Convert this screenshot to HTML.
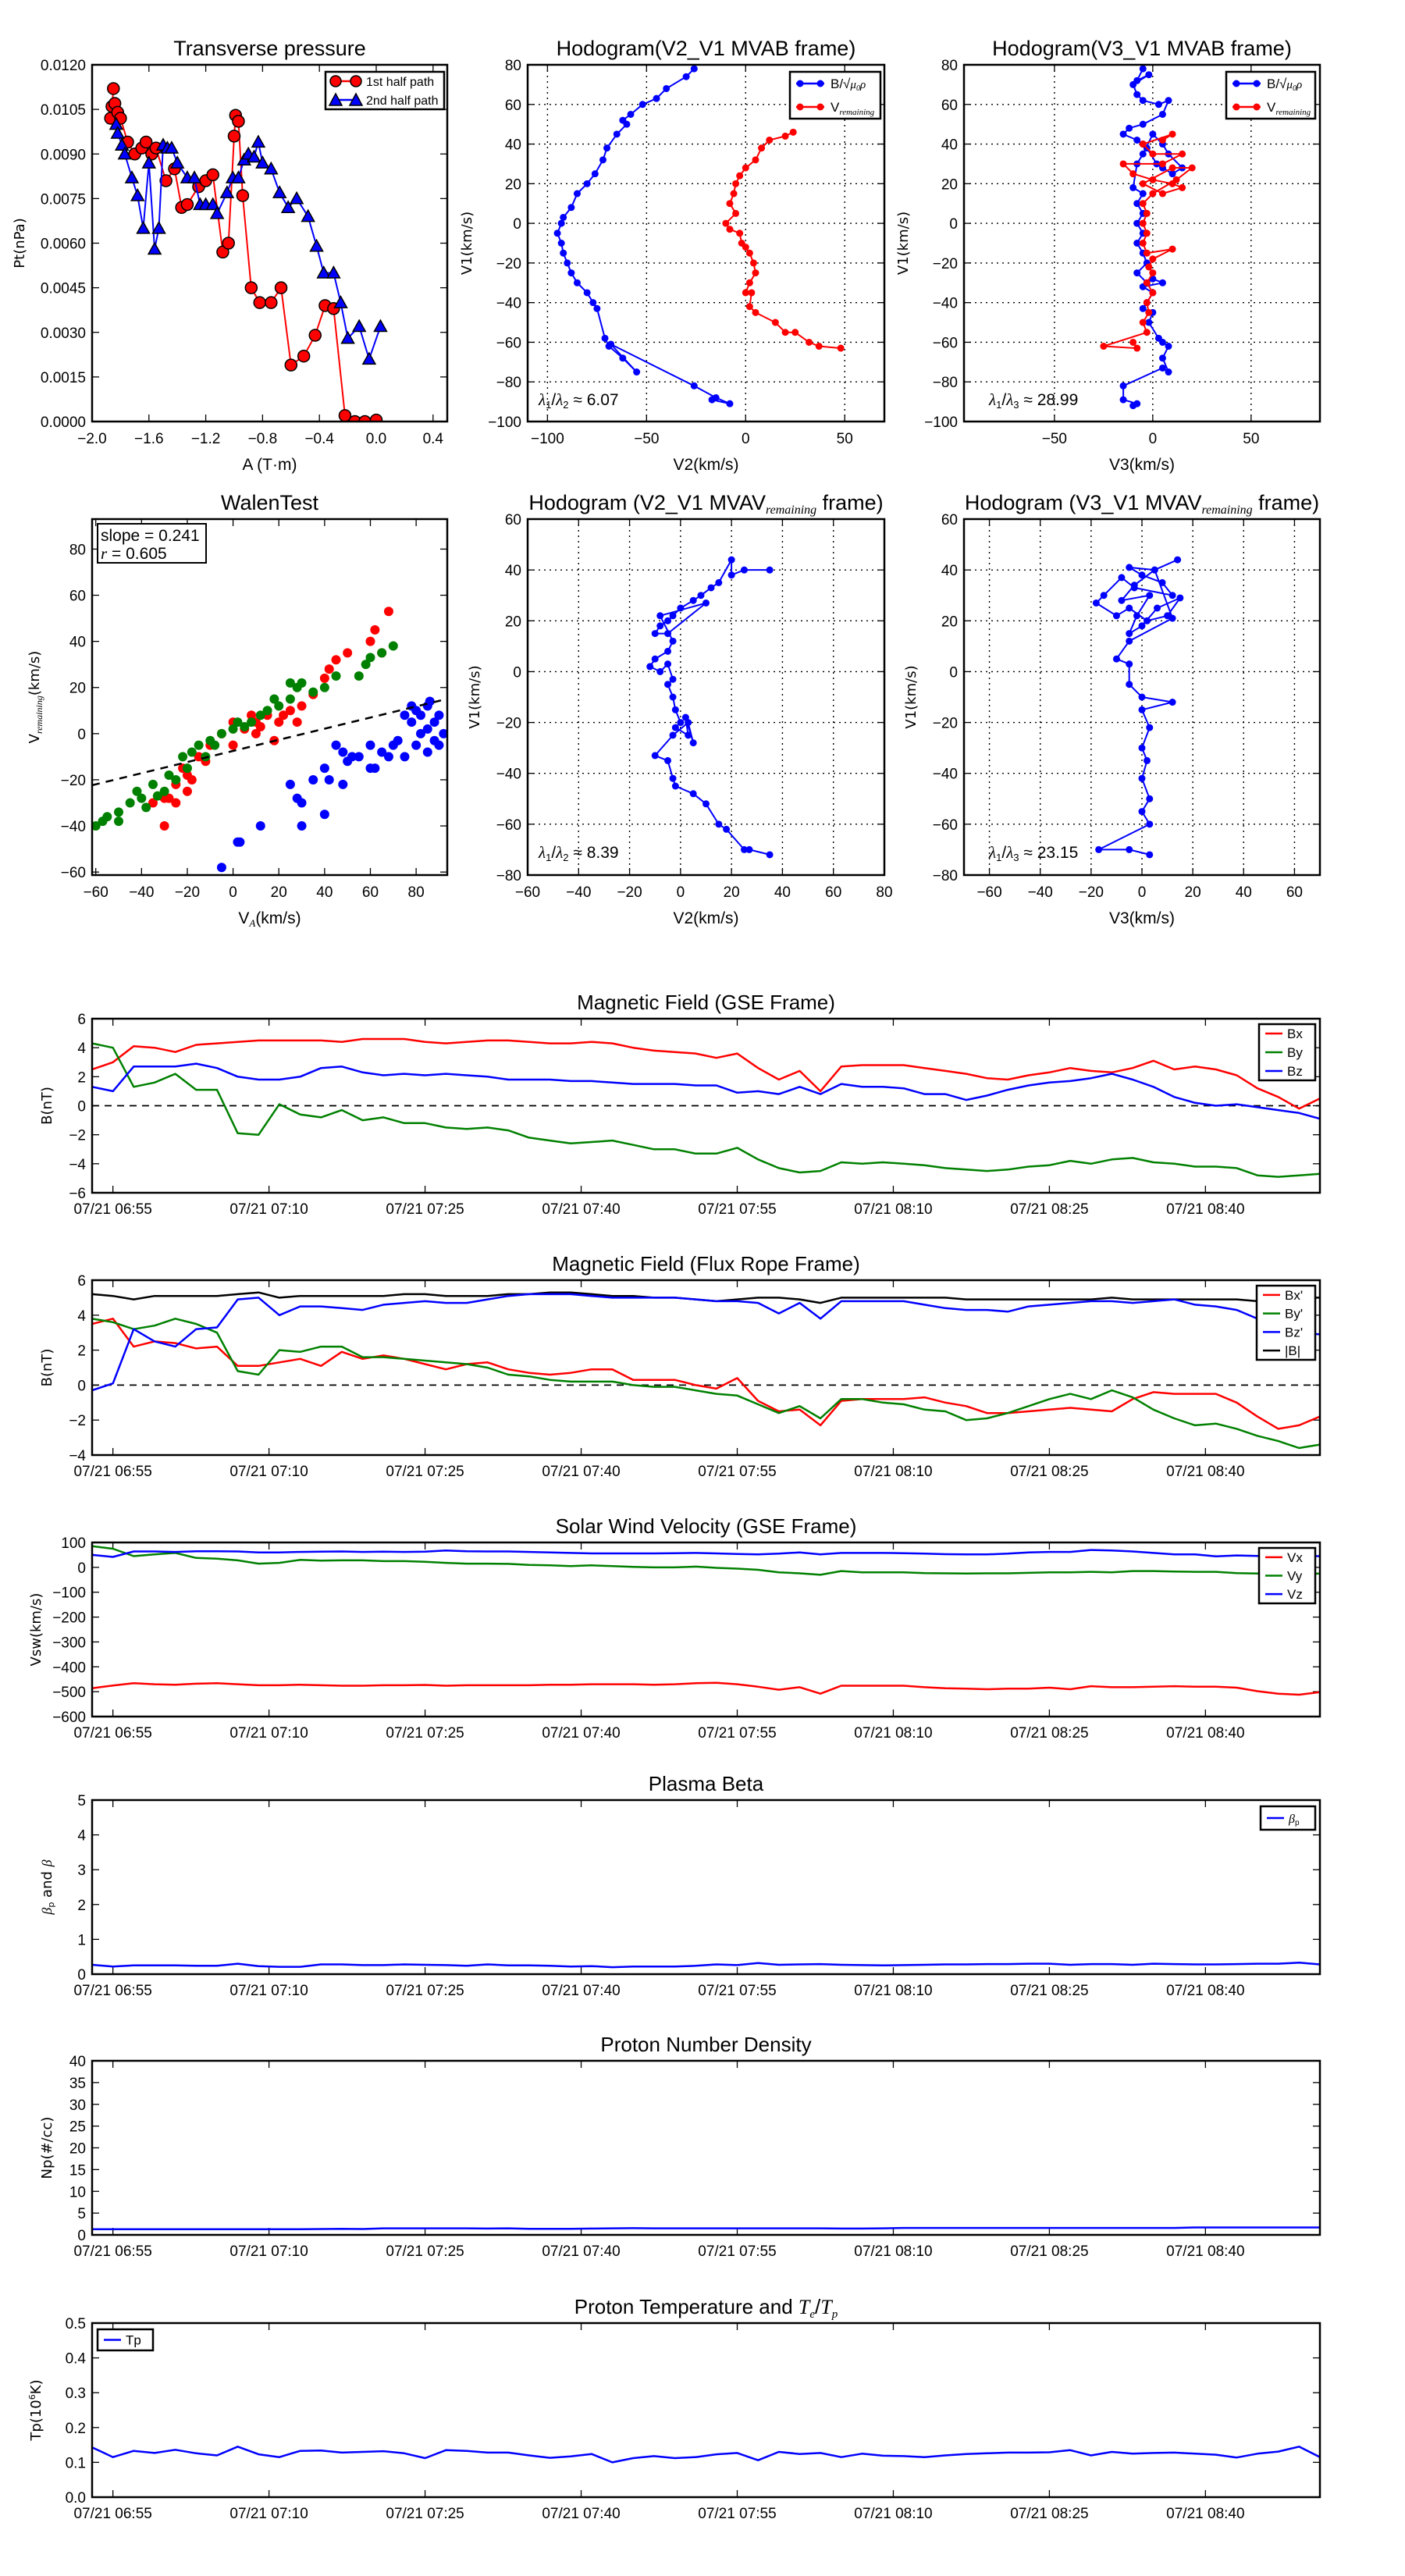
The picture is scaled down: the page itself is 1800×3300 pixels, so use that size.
<!DOCTYPE html>
<html><head><meta charset="utf-8">
<style>
html,body{margin:0;padding:0;background:#fff;}
svg{display:block;}
text{font-family:"Liberation Sans Narrow","Liberation Sans",sans-serif;fill:#000;}
.wide{font-family:"DejaVu Sans","Liberation Sans",sans-serif;}
.math{font-family:"Liberation Serif",serif;font-style:italic;}
</style></head>
<body>
<svg id="fig" xmlns="http://www.w3.org/2000/svg" width="1800" height="3300" viewBox="0 0 1800 3300"></svg>
<script>
// ---------- Transverse pressure ----------
const tp1A=[-1.85,-1.86,-1.87,-1.84,-1.82,-1.80,-1.75,-1.70,-1.65,-1.62,-1.58,-1.55,-1.48,-1.42,-1.37,-1.33,-1.25,-1.20,-1.15,-1.08,-1.04,-1.00,-0.99,-0.97,-0.94,-0.88,-0.82,-0.74,-0.67,-0.60,-0.51,-0.43,-0.36,-0.30,-0.22,-0.15,-0.08,0.0];
const tp1P=[0.0112,0.0106,0.0102,0.0107,0.0104,0.0102,0.0094,0.0090,0.0092,0.0094,0.0090,0.0092,0.0081,0.0085,0.0072,0.0073,0.0079,0.0081,0.0083,0.0057,0.0060,0.0096,0.0103,0.0101,0.0076,0.0045,0.0040,0.0040,0.0045,0.0019,0.0022,0.0029,0.0039,0.0038,0.0002,0.0,0.0,0.00005];
const tp2A=[-1.83,-1.82,-1.79,-1.77,-1.72,-1.68,-1.64,-1.60,-1.56,-1.53,-1.50,-1.47,-1.44,-1.40,-1.33,-1.28,-1.24,-1.20,-1.15,-1.12,-1.05,-1.01,-0.97,-0.93,-0.90,-0.86,-0.83,-0.80,-0.74,-0.68,-0.62,-0.56,-0.48,-0.42,-0.37,-0.30,-0.25,-0.20,-0.12,-0.05,0.03];
const tp2P=[0.0100,0.0097,0.0093,0.0090,0.0082,0.0076,0.0065,0.0087,0.0058,0.0065,0.0093,0.0092,0.0092,0.0087,0.0082,0.0082,0.0073,0.0073,0.0073,0.0070,0.0077,0.0082,0.0082,0.0088,0.0090,0.0089,0.0094,0.0087,0.0085,0.0077,0.0072,0.0075,0.0069,0.0059,0.0050,0.0050,0.0040,0.0028,0.0032,0.0021,0.0032];
// ---------- Hodogram MVAB V2-V1 ----------
const h2bV2=[-26,-30,-40,-45,-52,-58,-62,-60,-65,-70,-72,-76,-80,-85,-88,-92,-93,-95,-93,-92,-90,-88,-85,-80,-77,-75,-71,-69,-62,-55,-68,-26,-15,-8,-17];
const h2bV1=[78,74,68,63,60,55,52,50,45,38,32,25,20,15,8,3,0,-5,-10,-15,-20,-25,-30,-35,-40,-43,-58,-62,-68,-75,-61,-82,-88,-91,-89];
const h2rV2=[24,20,12,8,5,0,-3,-5,-6,-8,-5,-10,-8,-3,-2,0,2,4,5,2,0,3,2,5,15,20,25,32,37,48];
const h2rV1=[46,44,42,38,32,28,24,20,15,10,5,0,-3,-5,-10,-12,-15,-20,-25,-30,-35,-35,-42,-45,-50,-55,-55,-60,-62,-63];
// ---------- Hodogram MVAB V3-V1 ----------
const h3bV3=[-5,-8,-2,-10,-8,-5,3,8,5,-5,-12,-15,-8,-5,-3,2,5,10,15,8,5,0,-5,-8,-10,-5,-8,-5,-8,-5,-8,-5,-3,-8,-3,0,5,-5,0,-3,-5,0,-2,3,5,8,5,8,5,-15,-15,-8,-10];
const h3bV1=[78,72,75,70,65,62,60,62,55,50,48,45,42,40,38,30,28,25,28,35,40,45,35,30,18,15,10,5,0,-5,-10,-15,-20,-25,-30,-28,-30,-32,-35,-40,-43,-45,-50,-58,-60,-62,-68,-75,-73,-82,-89,-91,-92];
const h3rV3=[5,10,-5,0,15,5,-15,-10,0,10,15,5,-5,10,20,12,0,-5,-3,-5,-3,-5,-3,10,0,-2,0,-3,0,-3,-2,-5,-3,-25,-8,-10];
const h3rV1=[42,45,40,35,35,30,30,25,22,20,18,15,20,28,28,22,15,10,5,0,-5,-10,-15,-13,-18,-22,-25,-30,-35,-40,-45,-50,-55,-62,-63,-60];
// ---------- Walen test ----------
const wRva=[-30,-35,-28,-25,-20,-15,-10,-5,0,5,10,15,20,25,30,35,40,42,45,50,60,62,65,68,-22,-18,-12,0,10,18,22,28,-25,-20,-30,8,12];
const wRvr=[-40,-30,-28,-22,-18,-10,-5,0,-5,2,5,8,5,10,12,17,24,28,32,35,40,45,35,53,-15,-20,-12,5,0,-3,8,5,-30,-25,-28,8,3];
const wGva=[-60,-55,-50,-45,-40,-35,-30,-28,-25,-20,-18,-15,-12,-10,-5,0,5,8,12,15,20,25,28,30,35,40,45,55,58,60,65,70,-38,-33,-22,-8,2,18,25,-42,-50,-57];
const wGvr=[-40,-36,-34,-30,-28,-22,-25,-18,-20,-15,-8,-5,-10,-3,0,2,3,5,8,10,12,15,20,22,18,20,25,25,30,33,35,38,-32,-27,-10,-5,5,15,22,-25,-38,-38];
const wBva=[80,85,78,75,82,88,90,85,70,65,60,55,50,48,45,40,35,30,28,25,42,48,52,60,72,75,80,85,90,92,40,30,12,3,2,-5,62,68,82,86,78,88];
const wBvr=[10,12,5,8,0,5,-5,-8,-5,-8,-5,-10,-12,-8,-5,-15,-20,-30,-28,-22,-20,-22,-10,-15,-3,-10,-5,2,8,0,-35,-40,-40,-47,-47,-58,-15,-10,8,14,12,-3];
const walenSlope=0.241, walenIntercept=-7.5;
// ---------- Hodogram MVAV ----------
const m2V2=[35,25,20,20,15,12,8,5,0,-3,-5,-8,-10,-5,10,-8,-3,-5,-10,-12,-8,-5,-3,-5,-3,-2,0,-2,3,2,5,3,-3,-10,-5,-3,-2,5,10,15,18,25,27,35];
const m2V1=[40,40,38,44,35,33,30,28,25,22,20,18,15,15,27,22,12,8,5,2,0,3,-3,-5,-10,-15,-20,-22,-25,-18,-28,-20,-25,-33,-35,-42,-45,-48,-52,-60,-62,-70,-70,-72];
const m3V3=[14,5,-5,0,8,12,-3,-8,-15,-18,-10,-5,2,10,15,6,0,-5,-2,3,-8,-3,5,12,-5,-10,-5,-5,0,12,0,3,0,2,0,3,0,3,-17,-5,3];
const m3V1=[44,40,41,38,35,30,33,37,30,27,22,25,20,22,29,25,18,15,22,30,28,34,40,21,12,5,3,-5,-10,-12,-15,-22,-30,-35,-42,-50,-55,-60,-70,-70,-72];
// ---------- Time series (2-minute grid, minutes after 06:53) ----------
const tMin=[0,2,4,6,8,10,12,14,16,18,20,22,24,26,28,30,32,34,36,38,40,42,44,46,48,50,52,54,56,58,60,62,64,66,68,70,72,74,76,78,80,82,84,86,88,90,92,94,96,98,100,102,104,106,108,110,112,114,116,118];
const timeTickMin=[2,17,32,47,62,77,92,107];
const timeTickLabels=["07/21 06:55","07/21 07:10","07/21 07:25","07/21 07:40","07/21 07:55","07/21 08:10","07/21 08:25","07/21 08:40"];
const bx=[2.5,3.0,4.1,4.0,3.7,4.2,4.3,4.4,4.5,4.5,4.5,4.5,4.4,4.6,4.6,4.6,4.4,4.3,4.4,4.5,4.5,4.4,4.3,4.3,4.4,4.3,4.0,3.8,3.7,3.6,3.3,3.6,2.6,1.8,2.4,1.0,2.7,2.8,2.8,2.8,2.6,2.4,2.2,1.9,1.8,2.1,2.3,2.6,2.4,2.3,2.6,3.1,2.5,2.7,2.5,2.1,1.2,0.6,-0.2,0.5];
const by=[4.3,4.0,1.3,1.6,2.2,1.1,1.1,-1.9,-2.0,0.1,-0.6,-0.8,-0.3,-1.0,-0.8,-1.2,-1.2,-1.5,-1.6,-1.5,-1.7,-2.2,-2.4,-2.6,-2.5,-2.4,-2.7,-3.0,-3.0,-3.3,-3.3,-2.9,-3.7,-4.3,-4.6,-4.5,-3.9,-4.0,-3.9,-4.0,-4.1,-4.3,-4.4,-4.5,-4.4,-4.2,-4.1,-3.8,-4.0,-3.7,-3.6,-3.9,-4.0,-4.2,-4.2,-4.3,-4.8,-4.9,-4.8,-4.7];
const bz=[1.3,1.0,2.7,2.7,2.7,2.9,2.6,2.0,1.8,1.8,2.0,2.6,2.7,2.3,2.1,2.2,2.1,2.2,2.1,2.0,1.8,1.8,1.8,1.7,1.7,1.6,1.5,1.5,1.5,1.4,1.4,0.9,1.0,0.8,1.3,0.8,1.5,1.3,1.3,1.2,0.8,0.8,0.4,0.7,1.1,1.4,1.6,1.7,1.9,2.2,1.8,1.3,0.6,0.2,0.0,0.1,-0.1,-0.3,-0.5,-0.9];
const bxp=[3.5,3.8,2.2,2.5,2.4,2.1,2.2,1.1,1.1,1.3,1.5,1.1,1.9,1.5,1.7,1.5,1.2,0.9,1.2,1.3,0.9,0.7,0.6,0.7,0.9,0.9,0.3,0.3,0.3,0.0,-0.2,0.4,-0.9,-1.5,-1.4,-2.3,-0.9,-0.8,-0.8,-0.8,-0.7,-1.0,-1.2,-1.6,-1.6,-1.5,-1.4,-1.3,-1.4,-1.5,-0.8,-0.4,-0.5,-0.5,-0.5,-1.0,-1.8,-2.5,-2.3,-1.8];
const byp=[3.8,3.6,3.2,3.4,3.8,3.5,3.0,0.8,0.6,2.0,1.9,2.2,2.2,1.6,1.6,1.5,1.4,1.3,1.2,1.0,0.6,0.5,0.3,0.2,0.2,0.2,0.0,-0.1,-0.1,-0.3,-0.5,-0.6,-1.1,-1.6,-1.2,-1.9,-0.8,-0.8,-1.0,-1.1,-1.4,-1.5,-2.0,-1.9,-1.6,-1.2,-0.8,-0.5,-0.8,-0.3,-0.7,-1.4,-1.9,-2.3,-2.2,-2.5,-2.9,-3.2,-3.6,-3.4];
const bzp=[-0.3,0.1,3.2,2.5,2.2,3.2,3.3,4.9,5.0,4.0,4.5,4.5,4.4,4.3,4.6,4.7,4.8,4.7,4.7,4.9,5.1,5.2,5.2,5.2,5.1,5.0,5.0,5.0,5.0,4.9,4.8,4.8,4.7,4.1,4.7,3.8,4.8,4.8,4.8,4.8,4.6,4.4,4.3,4.3,4.2,4.5,4.6,4.7,4.8,4.8,4.7,4.8,4.9,4.6,4.5,4.3,3.8,3.4,3.0,2.9];
const bmag=[5.2,5.1,4.9,5.1,5.1,5.1,5.1,5.2,5.3,5.0,5.1,5.1,5.1,5.1,5.1,5.2,5.2,5.1,5.1,5.1,5.2,5.2,5.3,5.3,5.2,5.1,5.1,5.0,5.0,4.9,4.8,4.9,5.0,5.0,4.9,4.7,5.0,5.0,5.0,5.0,5.0,5.0,4.9,4.9,4.9,4.9,4.9,4.9,4.9,5.0,4.9,4.9,4.9,4.9,4.9,4.9,4.8,4.9,5.0,5.0];
const vx=[-486,-475,-466,-470,-472,-468,-466,-470,-474,-474,-472,-474,-476,-476,-474,-474,-473,-476,-474,-474,-474,-474,-472,-472,-470,-470,-470,-472,-470,-466,-464,-470,-480,-492,-482,-508,-476,-476,-476,-476,-482,-486,-488,-490,-488,-488,-484,-490,-478,-482,-482,-480,-478,-480,-480,-484,-498,-508,-512,-502];
const vy=[85,75,45,52,58,38,35,28,15,18,30,27,28,28,25,25,22,18,15,15,14,10,8,5,8,5,2,0,0,3,-2,-5,-10,-20,-24,-30,-15,-20,-20,-20,-23,-24,-25,-24,-24,-22,-20,-20,-18,-20,-15,-15,-17,-18,-18,-23,-25,-27,-28,-25];
const vz=[50,42,64,64,62,65,65,64,60,60,62,63,64,62,63,62,63,68,65,64,64,62,60,58,56,56,56,56,57,58,56,54,52,55,60,52,58,58,58,57,55,53,52,52,55,60,62,62,70,68,64,58,52,52,44,48,46,45,45,45];
const betaP=[0.27,0.22,0.25,0.25,0.25,0.24,0.24,0.30,0.23,0.21,0.21,0.28,0.28,0.26,0.26,0.28,0.27,0.26,0.24,0.28,0.25,0.25,0.24,0.22,0.23,0.20,0.22,0.22,0.22,0.24,0.28,0.26,0.32,0.27,0.28,0.29,0.27,0.26,0.25,0.26,0.27,0.28,0.28,0.29,0.29,0.30,0.30,0.27,0.29,0.29,0.27,0.30,0.29,0.28,0.28,0.29,0.30,0.30,0.33,0.28];
const np=[1.3,1.3,1.3,1.3,1.3,1.3,1.3,1.3,1.3,1.3,1.3,1.35,1.4,1.35,1.5,1.5,1.5,1.5,1.5,1.45,1.5,1.4,1.4,1.4,1.45,1.5,1.55,1.5,1.5,1.5,1.5,1.5,1.5,1.5,1.5,1.5,1.45,1.45,1.5,1.6,1.6,1.6,1.6,1.6,1.6,1.6,1.6,1.6,1.6,1.6,1.6,1.6,1.6,1.7,1.7,1.7,1.7,1.7,1.7,1.7];
const tp=[0.143,0.115,0.133,0.127,0.136,0.126,0.120,0.145,0.123,0.115,0.133,0.134,0.128,0.130,0.132,0.126,0.112,0.135,0.133,0.128,0.128,0.120,0.113,0.117,0.124,0.100,0.112,0.118,0.112,0.115,0.123,0.127,0.106,0.130,0.124,0.127,0.115,0.125,0.119,0.118,0.115,0.120,0.124,0.126,0.128,0.128,0.129,0.135,0.120,0.130,0.125,0.127,0.128,0.125,0.122,0.114,0.125,0.131,0.145,0.115];

const NS="http://www.w3.org/2000/svg";
const svg=document.getElementById('fig');
function el(tag,attrs,parent){const e=document.createElementNS(NS,tag);for(const k in attrs)e.setAttribute(k,attrs[k]);(parent||svg).appendChild(e);return e;}
function txt(s,x,y,size,anchor,parent,cls){const t=el('text',{x:x,y:y,'font-size':size,'text-anchor':anchor||'middle'},parent);if(cls)t.setAttribute('class',cls);t.textContent=s;return t;}

function makePanel(c){
  const g=el('g',{});
  
  
  const sx=v=>c.x0+(v-c.xmin)/(c.xmax-c.xmin)*(c.x1-c.x0);
  const sy=v=>c.y1-(v-c.ymin)/(c.ymax-c.ymin)*(c.y1-c.y0);
  const clipId='clip-'+c.name;
  const cp=el('clipPath',{id:clipId},g);
  el('rect',{x:c.x0,y:c.y0,width:c.x1-c.x0,height:c.y1-c.y0},cp);
  const ax=el('g',{},g);
  
  
  if(c.grid){
    c.xticks.forEach(v=>{const X=sx(v);if(X>c.x0+1&&X<c.x1-1)el('line',{x1:X,x2:X,y1:c.y0,y2:c.y1,stroke:'#000','stroke-width':1.4,'stroke-dasharray':'2,5'},ax);});
    c.yticks.forEach(v=>{const Y=sy(v);if(Y>c.y0+1&&Y<c.y1-1)el('line',{y1:Y,y2:Y,x1:c.x0,x2:c.x1,stroke:'#000','stroke-width':1.4,'stroke-dasharray':'2,5'},ax);});
  }
  const tl=9;
  const xt=el('g',{},ax);
  
  
  c.xticks.forEach((v,i)=>{const X=sx(v);
    el('line',{x1:X,x2:X,y1:c.y1,y2:c.y1-tl,stroke:'#000','stroke-width':1.3},xt);
    el('line',{x1:X,x2:X,y1:c.y0,y2:c.y0+tl,stroke:'#000','stroke-width':1.3},xt);
    txt(c.xlabels?c.xlabels[i]:c.xfmt(v),X,c.y1+(c.xlabOff||28),c.tickSize||19,'middle',xt);
  });
  const yt=el('g',{},ax);
  
  
  c.yticks.forEach(v=>{const Y=sy(v);
    el('line',{x1:c.x0,x2:c.x0+tl,y1:Y,y2:Y,stroke:'#000','stroke-width':1.3},yt);
    el('line',{x1:c.x1,x2:c.x1-tl,y1:Y,y2:Y,stroke:'#000','stroke-width':1.3},yt);
    txt(c.yfmt(v),c.x0-8,Y+7,c.tickSize||19,'end',yt);
  });
  const plot=el('g',{'clip-path':'url(#'+clipId+')'},g);
  
  
  const frame=el('rect',{x:c.x0,y:c.y0,width:c.x1-c.x0,height:c.y1-c.y0,fill:'none',stroke:'#000','stroke-width':2.5},g);
  
  
  if(c.title){const t=el('text',{x:(c.x0+c.x1)/2,y:c.y0-12,'font-size':c.titleSize||27,'text-anchor':'middle'},g);t.innerHTML=c.title;
    }
  if(c.xlabel){const t=el('text',{x:(c.x0+c.x1)/2,y:c.y1+(c.xlabelOff||62),'font-size':21,'text-anchor':'middle'},g);t.innerHTML=c.xlabel;
    }
  if(c.ylabel){const yx=c.ylabelX,yy=(c.y0+c.y1)/2;const t=el('text',{x:yx,y:yy,'font-size':18,'text-anchor':'middle',transform:'rotate(-90 '+yx+' '+yy+')','class':'wide'},g);t.innerHTML=c.ylabel;
    }
  return {g,plot,sx,sy,c};
}
function polyline(P,xs,ys,color,w,name,dash){
  const pts=xs.map((v,i)=>P.sx(v).toFixed(1)+','+P.sy(ys[i]).toFixed(1)).join(' ');
  const l=el('polyline',{points:pts,fill:'none',stroke:color,'stroke-width':w||2.5,'stroke-linejoin':'round'},P.plot);
  if(dash)l.setAttribute('stroke-dasharray',dash);
  
  
  return l;
}
function dots(P,xs,ys,color,r,name,stroke){
  const g=el('g',{},P.plot);
  
  
  xs.forEach((v,i)=>{const c=el('circle',{cx:P.sx(v),cy:P.sy(ys[i]),r:r,fill:color},g);if(stroke){c.setAttribute('stroke',stroke);c.setAttribute('stroke-width',1.5);}
    });
}
function tris(P,xs,ys,color,s,name){
  const g=el('g',{},P.plot);
  
  
  xs.forEach((v,i)=>{const X=P.sx(v),Y=P.sy(ys[i]);const p=el('polygon',{points:`${X},${Y-s} ${X-s},${Y+s*0.8} ${X+s},${Y+s*0.8}`,fill:color,stroke:'#000','stroke-width':1.5},g);
    });
}
function legend(x,y,w,h,items,name,fs){
  const g=el('g',{});
  
  
  el('rect',{x:x,y:y,width:w,height:h,fill:'#fff',stroke:'#000','stroke-width':2.5},g);
  const step=h/items.length;
  items.forEach((it,i)=>{const cy=y+step*(i+0.5);
    const e=el('g',{},g);
    
    
    el('line',{x1:x+8,x2:x+(it.marker?44:30),y1:cy,y2:cy,stroke:it.color,'stroke-width':2.5},e);
    if(it.marker==='o'){[x+13,x+39].forEach(mx=>el('circle',{cx:mx,cy:cy,r:it.r||7,fill:it.color,stroke:it.ms||'none','stroke-width':1.5},e));}
    if(it.marker==='^'){[x+13,x+39].forEach(mx=>el('polygon',{points:`${mx},${cy-8} ${mx-8},${cy+7} ${mx+8},${cy+7}`,fill:it.color,stroke:'#000','stroke-width':1.5},e));}
    const t=el('text',{x:x+(it.marker?52:36),y:cy+6,'font-size':fs||19,'text-anchor':'start'},e);t.innerHTML=it.label;
  });
}
const f1=v=>v.toFixed(1), f0=v=>String(v).replace('-','\u2212'), f4=v=>v.toFixed(4);
const minus=s=>s.replace('-','\u2212');
const range=(a,b,s)=>{const r=[];for(let v=a;v<=b+1e-9;v+=s)r.push(Math.round(v*1e6)/1e6);return r;};

// ---------- Row 1 ----------
let P=makePanel({name:'transverse-pressure',x0:118,x1:573,y0:83,y1:540,xmin:-2.0,xmax:0.5,ymin:0,ymax:0.012,
  xticks:range(-2.0,0.4,0.4),yticks:range(0,0.012,0.0015),xfmt:v=>minus(v.toFixed(1)),yfmt:f4,
  title:'Transverse pressure',xlabel:'A (T\u00b7m)',ylabel:'Pt(nPa)',ylabelX:31});
polyline(P,tp1A,tp1P,'#f00',2,'first-half-path-line');
dots(P,tp1A,tp1P,'#f00',7.5,'first-half-path-markers','#000');
polyline(P,tp2A,tp2P,'#00f',2,'second-half-path-line');
tris(P,tp2A,tp2P,'#00f',8,'second-half-path-markers');
legend(417,92,152,48,[{key:'1st-half',label:'1st half path',color:'#f00',marker:'o',ms:'#000'},{key:'2nd-half',label:'2nd half path',color:'#00f',marker:'^'}],'transverse-pressure-legend',16);

const hodoYt=range(-100,80,20);
P=makePanel({name:'hodogram-mvab-v2',x0:676,x1:1133,y0:83,y1:540,xmin:-110,xmax:70,ymin:-100,ymax:80,grid:true,
  xticks:[-100,-50,0,50],yticks:hodoYt,xfmt:f0,yfmt:f0,title:'Hodogram(V2_V1 MVAB frame)',xlabel:'V2(km/s)',ylabel:'V1(km/s)',ylabelX:604});
polyline(P,h2bV2,h2bV1,'#00f',2,'b-alfven-path');dots(P,h2bV2,h2bV1,'#00f',4.5,'b-alfven-points');
polyline(P,h2rV2,h2rV1,'#f00',2,'v-remaining-path');dots(P,h2rV2,h2rV1,'#f00',4.5,'v-remaining-points');
legend(1012,92,116,60,[{key:'b',label:'B/\u221a<tspan class="math" font-size="15">\u03bc<tspan font-size="10" dy="3">0</tspan><tspan dy="-3">\u03c1</tspan></tspan>',color:'#00f',marker:'o',r:4.5},{key:'v',label:'V<tspan class="math" font-size="11" dy="4">remaining</tspan>',color:'#f00',marker:'o',r:4.5}],'hodogram-mvab-v2-legend',17);
let t=el('text',{x:690,y:519,'font-size':21,'text-anchor':'start'});t.innerHTML='<tspan class="math">\u03bb</tspan><tspan font-size="13" dy="4">1</tspan><tspan dy="-4">/</tspan><tspan class="math">\u03bb</tspan><tspan font-size="13" dy="4">2</tspan><tspan dy="-4"> \u2248 6.07</tspan>';


P=makePanel({name:'hodogram-mvab-v3',x0:1235,x1:1691,y0:83,y1:540,xmin:-96,xmax:85,ymin:-100,ymax:80,grid:true,
  xticks:[-50,0,50],yticks:hodoYt,xfmt:f0,yfmt:f0,title:'Hodogram(V3_V1 MVAB frame)',xlabel:'V3(km/s)',ylabel:'V1(km/s)',ylabelX:1163});
polyline(P,h3bV3,h3bV1,'#00f',2,'b-alfven-path');dots(P,h3bV3,h3bV1,'#00f',4.5,'b-alfven-points');
polyline(P,h3rV3,h3rV1,'#f00',2,'v-remaining-path');dots(P,h3rV3,h3rV1,'#f00',4.5,'v-remaining-points');
legend(1571,92,114,60,[{key:'b',label:'B/\u221a<tspan class="math" font-size="15">\u03bc<tspan font-size="10" dy="3">0</tspan><tspan dy="-3">\u03c1</tspan></tspan>',color:'#00f',marker:'o',r:4.5},{key:'v',label:'V<tspan class="math" font-size="11" dy="4">remaining</tspan>',color:'#f00',marker:'o',r:4.5}],'hodogram-mvab-v3-legend',17);
t=el('text',{x:1267,y:519,'font-size':21,'text-anchor':'start'});t.innerHTML='<tspan class="math">\u03bb</tspan><tspan font-size="13" dy="4">1</tspan><tspan dy="-4">/</tspan><tspan class="math">\u03bb</tspan><tspan font-size="13" dy="4">3</tspan><tspan dy="-4"> \u2248 28.99</tspan>';


// ---------- Row 2 ----------
P=makePanel({name:'walen-test',x0:118,x1:573,y0:665,y1:1121,xmin:-61.6,xmax:93.6,ymin:-61.3,ymax:93,
  xticks:range(-60,80,20),yticks:range(-60,80,20),xfmt:f0,yfmt:f0,title:'WalenTest',
  xlabel:'V<tspan class="math" font-size="13" dy="4">A</tspan><tspan dy="-4">(km/s)</tspan>',ylabel:'V<tspan class="math" font-size="12" dy="4">remaining</tspan><tspan dy="-4">(km/s)</tspan>',ylabelX:50});
dots(P,wRva,wRvr,'#f00',6,'walen-red-points');
dots(P,wGva,wGvr,'#008000',6,'walen-green-points');
dots(P,wBva,wBvr,'#00f',6,'walen-blue-points');
polyline(P,[-61.6,93.6],[-61.6*walenSlope+walenIntercept,93.6*walenSlope+walenIntercept],'#000',2.5,'walen-fit-line','10,8');
let lg=el('g',{});
el('rect',{x:125,y:671,width:139,height:50,fill:'#fff',stroke:'#000','stroke-width':2},lg);
txt('slope = 0.241',129,693,21,'start',lg);
t=el('text',{x:129,y:716,'font-size':21,'text-anchor':'start'},lg);t.innerHTML='<tspan class="math">r</tspan> = 0.605';

P=makePanel({name:'hodogram-mvav-v2',x0:676,x1:1133,y0:665,y1:1121,xmin:-60,xmax:80,ymin:-80,ymax:60,grid:true,
  xticks:range(-60,80,20),yticks:range(-80,60,20),xfmt:f0,yfmt:f0,title:'Hodogram (V2_V1 MVAV<tspan class="math" font-size="16" dy="5">remaining</tspan><tspan dy="-5"> frame)</tspan>',xlabel:'V2(km/s)',ylabel:'V1(km/s)',ylabelX:614});
polyline(P,m2V2,m2V1,'#00f',2,'mvav-v2-path');dots(P,m2V2,m2V1,'#00f',4.5,'mvav-v2-points');
t=el('text',{x:690,y:1099,'font-size':21,'text-anchor':'start'});t.innerHTML='<tspan class="math">\u03bb</tspan><tspan font-size="13" dy="4">1</tspan><tspan dy="-4">/</tspan><tspan class="math">\u03bb</tspan><tspan font-size="13" dy="4">2</tspan><tspan dy="-4"> \u2248 8.39</tspan>';


P=makePanel({name:'hodogram-mvav-v3',x0:1235,x1:1691,y0:665,y1:1121,xmin:-70,xmax:70,ymin:-80,ymax:60,grid:true,
  xticks:range(-60,60,20),yticks:range(-80,60,20),xfmt:f0,yfmt:f0,title:'Hodogram (V3_V1 MVAV<tspan class="math" font-size="16" dy="5">remaining</tspan><tspan dy="-5"> frame)</tspan>',xlabel:'V3(km/s)',ylabel:'V1(km/s)',ylabelX:1173});
polyline(P,m3V3,m3V1,'#00f',2,'mvav-v3-path');dots(P,m3V3,m3V1,'#00f',4.5,'mvav-v3-points');
t=el('text',{x:1267,y:1099,'font-size':21,'text-anchor':'start'});t.innerHTML='<tspan class="math">\u03bb</tspan><tspan font-size="13" dy="4">1</tspan><tspan dy="-4">/</tspan><tspan class="math">\u03bb</tspan><tspan font-size="13" dy="4">3</tspan><tspan dy="-4"> \u2248 23.15</tspan>';


// ---------- Time series ----------
function tsPanel(name,y0,y1,ymin,ymax,yticks,yfmt,title,ylabel,ylabelX){
  return makePanel({name:name,x0:118,x1:1691,y0:y0,y1:y1,xmin:0,xmax:118,ymin:ymin,ymax:ymax,
    xticks:timeTickMin,xlabels:timeTickLabels,yticks:yticks,yfmt:yfmt,title:title,ylabel:ylabel,ylabelX:ylabelX,xlabOff:27,titleSize:26});
}
P=tsPanel('magnetic-field-gse',1305,1528,-6,6,range(-6,6,2),f0,'Magnetic Field (GSE Frame)','B(nT)',66);
polyline(P,[0,118],[0,0],'#000',1.8,'zero-line','9,7');
polyline(P,tMin,bx,'#f00',2.5,'bx-line');polyline(P,tMin,by,'#008000',2.5,'by-line');polyline(P,tMin,bz,'#00f',2.5,'bz-line');
legend(1613,1312,72,72,[{key:'bx',label:'Bx',color:'#f00'},{key:'by',label:'By',color:'#008000'},{key:'bz',label:'Bz',color:'#00f'}],'gse-legend',17);

P=tsPanel('magnetic-field-flux-rope',1640,1864,-4,6,range(-4,6,2),f0,'Magnetic Field (Flux Rope Frame)','B(nT)',66);
polyline(P,[0,118],[0,0],'#000',1.8,'zero-line','9,7');
polyline(P,tMin,bmag,'#000',2.5,'bmag-line');
polyline(P,tMin,bxp,'#f00',2.5,'bx-prime-line');polyline(P,tMin,byp,'#008000',2.5,'by-prime-line');polyline(P,tMin,bzp,'#00f',2.5,'bz-prime-line');
legend(1610,1647,75,95,[{key:'bxp',label:"Bx'",color:'#f00'},{key:'byp',label:"By'",color:'#008000'},{key:'bzp',label:"Bz'",color:'#00f'},{key:'bmag',label:'|B|',color:'#000'}],'flux-rope-legend',17);

P=tsPanel('solar-wind-velocity',1976,2199,-600,100,range(-600,100,100),f0,'Solar Wind Velocity (GSE Frame)','Vsw(km/s)',52);
polyline(P,tMin,vx,'#f00',2.5,'vx-line');polyline(P,tMin,vy,'#008000',2.5,'vy-line');polyline(P,tMin,vz,'#00f',2.5,'vz-line');
legend(1613,1983,72,71,[{key:'vx',label:'Vx',color:'#f00'},{key:'vy',label:'Vy',color:'#008000'},{key:'vz',label:'Vz',color:'#00f'}],'velocity-legend',17);

P=tsPanel('plasma-beta',2306,2529,0,5,range(0,5,1),f0,'Plasma Beta','<tspan class="math">\u03b2</tspan><tspan font-size="11" dy="3">p</tspan><tspan dy="-3"> and </tspan><tspan class="math">\u03b2</tspan>',66);
polyline(P,tMin,betaP,'#00f',2.5,'beta-p-line');
legend(1615,2314,70,30,[{key:'betap',label:'<tspan class="math">\u03b2</tspan><tspan font-size="10" dy="3">p</tspan>',color:'#00f'}],'beta-legend',16);

P=tsPanel('proton-number-density',2640,2863,0,40,range(0,40,5),f0,'Proton Number Density','Np(#/cc)',66);
polyline(P,tMin,np,'#00f',2.5,'np-line');

P=tsPanel('proton-temperature',2976,3199,0,0.5,range(0,0.5,0.1),f1,'Proton Temperature and <tspan class="math">T</tspan><tspan class="math" font-size="15" dy="5">e</tspan><tspan dy="-5">/</tspan><tspan class="math">T</tspan><tspan class="math" font-size="15" dy="5">p</tspan>','Tp(10<tspan font-size="11" dy="-7">6</tspan><tspan dy="7">K)</tspan>',52);
polyline(P,tMin,tp,'#00f',2.5,'tp-line');
legend(125,2984,71,27,[{key:'tp',label:'Tp',color:'#00f'}],'tp-legend',17);
</script>
</body></html>
